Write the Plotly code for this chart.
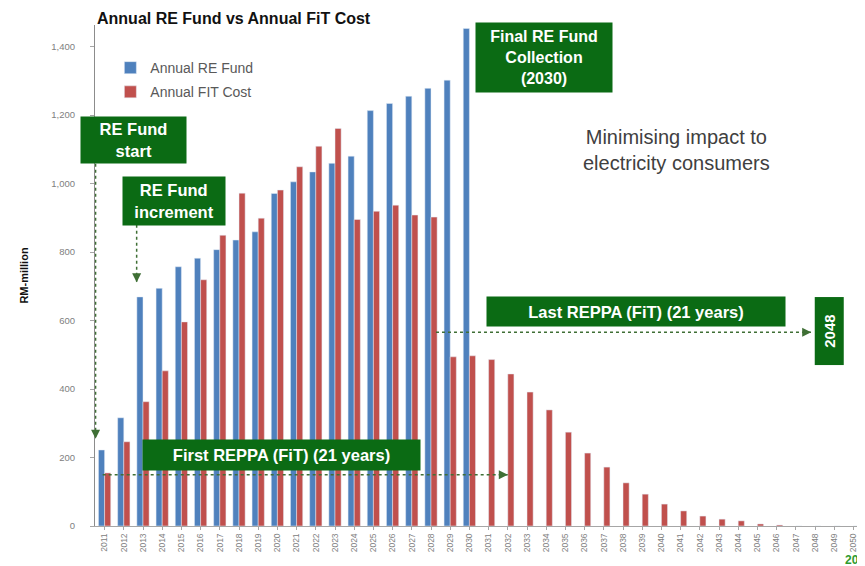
import plotly.graph_objects as go

years = [str(y) for y in range(2011, 2051)]

# RE Fund collected 2011-2030 only
re_fund = [222, 316, 669, 694, 757, 782, 807, 835, 859, 971, 1005, 1034, 1059, 1080,
           1213, 1234, 1255, 1278, 1302, 1453] + [None] * 20

fit_cost = [155, 246, 363, 453, 596, 719, 849, 972, 899, 981, 1049, 1109, 1161, 895,
            919, 937, 908, 902, 494, 497, 486, 444, 391, 339, 274, 213, 172, 126,
            93, 64, 44, 29, 20, 15, 6, 3, 0, 0, 0, 0]

y_ticks = [0, 200, 400, 600, 800, 1000, 1200, 1400]

GREEN = '#0b6b14'
ARROW = '#3f6f35'

# page body has an 8px margin, so the figure is drawn 8px smaller
W, H = 857, 558

fig = go.Figure()
fig.add_trace(go.Bar(x=years, y=re_fund, name='Annual RE Fund', marker_color='#4f81bd',
                     legendgroup='a'))
fig.add_trace(go.Bar(x=years, y=fit_cost, name='Annual FIT Cost', marker_color='#c0504d',
                     legendgroup='b'))

fig.update_layout(
    width=W, height=H,
    margin=dict(l=87, r=2, t=17, b=40),
    paper_bgcolor='white', plot_bgcolor='white',
    barmode='group', bargap=0.36, bargroupgap=0,
    font=dict(family='Liberation Sans, Arial', color='#595959'),
    title=dict(text='<b>Annual RE Fund vs Annual FiT Cost</b>', x=89/W, xanchor='left',
               y=1-10/H, yanchor='middle', font=dict(size=16, color='#111111')),
    legend=dict(x=0.02, y=0.946, xanchor='left', yanchor='top', bgcolor='rgba(0,0,0,0)',
                font=dict(size=14, color='#595959'), tracegroupgap=3),
    showlegend=True,
)

fig.update_xaxes(type='category', range=[-0.5, 39.5], tickangle=-90, automargin=False,
                 tickfont=dict(size=8.5, color='#808080'), showline=True, linecolor='#a6a6a6',
                 ticks='outside', ticklen=3, tickcolor='#a6a6a6', showgrid=False)
fig.update_yaxes(range=[0, 1463], tickvals=y_ticks, tickformat=',', showline=True,
                 automargin=False,
                 linecolor='#8c8c8c', ticks='outside', ticklen=4, tickcolor='#a6a6a6',
                 tickfont=dict(size=9.5, color='#808080'), showgrid=False, zeroline=False,
                 ticklabelstandoff=13,
                 title=dict(text='<b>RM-million</b>', font=dict(size=11, color='#111111'),
                            standoff=20))


def box(text, x, y, w, h, size=16.5, angle=0):
    fig.add_annotation(x=x, y=y, xref='x', yref='y', text='<b>' + text + '</b>',
                       showarrow=False, bgcolor=GREEN, width=w, height=h,
                       font=dict(size=size, color='white', family='Liberation Sans, Arial'),
                       textangle=angle, align='center', valign='middle', borderpad=0)


def dashed_arrow(x0, y0, x1, y1):
    fig.add_shape(type='line', xref='x', yref='y', x0=x0, y0=y0, x1=x1, y1=y1,
                  line=dict(color=ARROW, width=1.5, dash='dot'))
    dx = 0 if x1 == x0 else (-4 if x1 > x0 else 4)
    dy = 0 if y1 == y0 else (4 if y1 < y0 else -4)
    fig.add_annotation(x=x1, y=y1, xref='x', yref='y', ax=dx, ay=-dy if dy else 0,
                       showarrow=True, arrowhead=2, arrowsize=1.2, arrowwidth=1.5,
                       arrowcolor=ARROW, text='')


# RE Fund start
box('RE Fund<br>start', 1.53, 1127, 105, 46)
dashed_arrow(-0.47, 1058, -0.47, 255)
# RE Fund increment
box('RE Fund<br>increment', 3.6, 949, 102, 48)
dashed_arrow(1.67, 880, 1.67, 712)
# Final collection
box('Final RE Fund<br>Collection<br>(2030)', 22.9, 1369, 136, 69, size=16)
# Last REPPA
box('Last REPPA (FiT) (21 years)', 27.7, 625, 298, 29)
dashed_arrow(17.26, 566, 36.8, 566)
box('2048', 37.75, 569, 67, 28, size=15, angle=-90)
# First REPPA
box('First REPPA (FiT) (21 years)', 9.2, 207, 277, 30)
dashed_arrow(-0.1, 150, 21.0, 150)

fig.add_annotation(x=29.8, y=1098, xref='x', yref='y', showarrow=False,
                   text='Minimising impact to<br>electricity consumers',
                   font=dict(size=20, color='#404040', family='Liberation Sans, Arial'),
                   align='center')

fig.add_annotation(x=835/W, y=-0.068, xref='paper', yref='paper', showarrow=False,
                   text='<b>20</b>', xanchor='left', yanchor='middle',
                   font=dict(size=12, color='#2e9b2e'))

fig.write_html('out.html')
